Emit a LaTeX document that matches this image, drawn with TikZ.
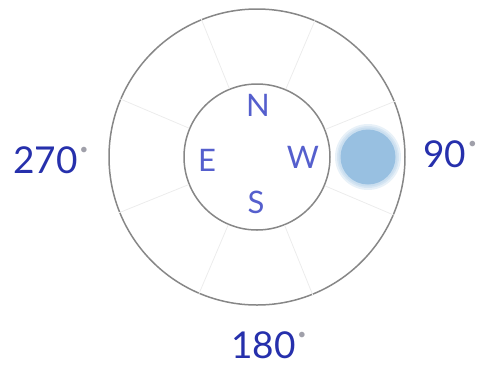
\documentclass[tikz,border=0pt]{standalone}
\usepackage{fontspec}
\setmainfont{Lato}
\definecolor{ringgray}{RGB}{135,135,135}
\definecolor{spokegray}{RGB}{236,236,236}
\definecolor{letterblue}{RGB}{85,95,205}
\definecolor{numblue}{RGB}{38,48,172}
\definecolor{dotblue}{RGB}{152,192,225}
\definecolor{deggray}{RGB}{160,160,170}
\newcommand{\degmark}{\hspace{2pt}\raisebox{19pt}{\fontsize{15}{15}\selectfont\color{deggray}\textbullet}}
\begin{document}
\begin{tikzpicture}[x=1pt,y=-1pt,
  ring/.style={circle,draw=ringgray,line width=1.5pt,inner sep=0pt},
  spoke/.style={draw=spokegray,line width=0.8pt},
  blur/.style={circle,fill=dotblue,opacity=0.22,inner sep=0pt},
  letter/.style={inner sep=0pt,text=letterblue,font=\fontsize{31}{33}\selectfont},
  angle label/.style={inner sep=0pt,anchor=base west,text=numblue,font=\fontsize{37}{40}\selectfont}]
\useasboundingbox (0,0) rectangle (480,368);
\node[ring,minimum size=296pt] (outer) at (257,157) {};
\node[ring,minimum size=146pt] (inner) at (257,157) {};
\foreach \a in {22.5,67.5,...,337.5}
  \draw[spoke] (inner.\a) -- (outer.\a);
\node[blur,minimum size=66pt] (blur1) at (368,157) {};
\node[blur,minimum size=62pt] (blur2) at (368,157) {};
\node[blur,minimum size=59pt] (blur3) at (368,157) {};
\node[circle,fill=dotblue,minimum size=55pt,inner sep=0pt] (dot) at (368,157) {};
\node[letter] (N) at (258,105) {N};
\node[letter] (E) at (207,160) {E};
\node[letter] (W) at (303,157) {W};
\node[letter] (S) at (256,202) {S};
\node[angle label] (l270) at (13,173) {270\degmark};
\node[angle label] (l90) at (423,167) {90\degmark};
\node[angle label] (l180) at (231,358) {180\degmark};
\end{tikzpicture}
\end{document}
